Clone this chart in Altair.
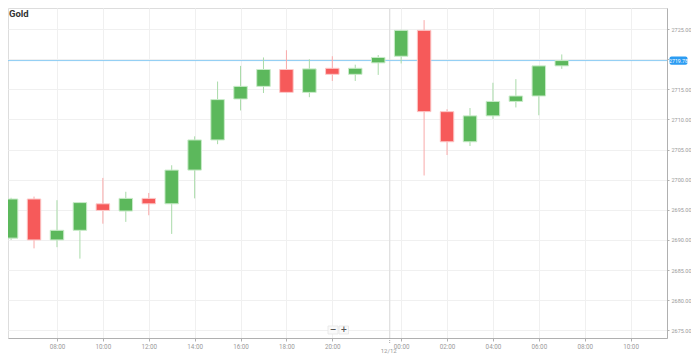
import altair as alt
import pandas as pd

# ---------------- data ----------------
times = ["06:00", "07:00", "08:00", "09:00", "10:00", "11:00", "12:00", "13:00",
         "14:00", "15:00", "16:00", "17:00", "18:00", "19:00", "20:00", "21:00",
         "22:00", "00:00", "01:00", "02:00", "03:00", "04:00", "05:00", "06:00",
         "07:00"]
opens = [2690.3, 2696.8, 2690.0, 2691.6, 2696.0, 2694.8, 2696.9, 2696.0,
         2701.6, 2706.6, 2713.4, 2715.5, 2718.3, 2714.5, 2718.5, 2717.5,
         2719.4, 2720.5, 2724.8, 2711.3, 2706.3, 2710.6, 2713.0, 2713.9,
         2718.9]
highs = [2697.0, 2697.2, 2696.6, 2696.3, 2700.3, 2698.0, 2697.8, 2702.4,
         2707.2, 2716.3, 2718.9, 2720.3, 2721.5, 2720.0, 2720.5, 2719.1,
         2720.7, 2724.9, 2726.5, 2711.7, 2711.9, 2716.1, 2716.7, 2718.9,
         2720.8]
lows = [2690.0, 2688.6, 2688.8, 2686.9, 2692.7, 2693.0, 2694.1, 2691.0,
        2696.9, 2705.9, 2711.5, 2714.4, 2714.4, 2713.7, 2716.4, 2716.4,
        2717.4, 2719.3, 2700.7, 2704.1, 2705.6, 2710.1, 2712.0, 2710.7,
        2718.4]
closes = [2696.8, 2690.0, 2691.6, 2696.2, 2694.9, 2696.9, 2696.0, 2701.6,
          2706.6, 2713.3, 2715.5, 2718.3, 2714.5, 2718.4, 2717.5, 2718.5,
          2720.3, 2724.8, 2711.3, 2706.3, 2710.6, 2713.0, 2713.9, 2718.9,
          2719.78]

y_ticks = [2675, 2680, 2685, 2690, 2695, 2700, 2705, 2710, 2715, 2720, 2725]
y_hidden_label = 2720  # covered by the current-price tag in the reference
x_tick_pos = [2, 4, 6, 8, 10, 12, 14, 17, 19, 21, 23, 25, 27]
x_tick_labels = ["08:00", "10:00", "12:00", "14:00", "16:00", "18:00", "20:00",
                 "00:00", "02:00", "04:00", "06:00", "08:00", "10:00"]
date_sep_pos = [16.5]
date_sep_label = ["12/12"]
current_price = [2719.78]
title_text = "Gold"
button_labels = ["\u2212", "+"]

# ---------------- tables ----------------
df = pd.DataFrame({"k": list(range(len(times))), "time": times, "open": opens,
                   "high": highs, "low": lows, "close": closes})
df["dir"] = ["up" if c >= o else "down" for o, c in zip(opens, closes)]

price_df = pd.DataFrame({"price": current_price,
                         "ptop": [p + 0.68 for p in current_price],
                         "pbot": [p - 0.68 for p in current_price],
                         "label": [f"{p:.2f}" for p in current_price]})
date_df = pd.DataFrame({"k": date_sep_pos, "label": date_sep_label})

W, H = 659, 330
xs = alt.Scale(domain=[0.0837, 28.368], nice=False, zero=False)
ys = alt.Scale(domain=[2673.72, 2728.51], nice=False, zero=False)

label_expr = ""
for p, lab in zip(x_tick_pos, x_tick_labels):
    label_expr += f"datum.value == {p} ? '{lab}' : "
label_expr += "''"
y_label_expr = f"datum.value == {y_hidden_label} ? '' : format(datum.value, '.2f')"

GRID = "#f0f0f0"
AX = "#b0b0b0"
LBL = "#9a9a9a"

x_axis = alt.Axis(values=x_tick_pos, labelExpr=label_expr, title=None, orient="bottom",
                  tickSize=3, labelPadding=2, labelFontSize=6.3, labelColor=LBL,
                  labelFont="Roboto", domainColor=AX, tickColor=AX,
                  gridColor=GRID, grid=True, labelOverlap=False, labelFlush=False)
y_axis = alt.Axis(values=y_ticks, labelExpr=y_label_expr, title=None, orient="right",
                  tickSize=2, labelPadding=2, labelFontSize=5.5, labelColor=LBL,
                  labelFont="Roboto", domainColor=AX, tickColor=AX,
                  gridColor=GRID, grid=True, labelOverlap=False, labelFlush=False)

X = lambda f: alt.X(f, scale=xs, axis=x_axis)
Y = lambda f: alt.Y(f, scale=ys, axis=y_axis)

color_fill = alt.Scale(domain=["up", "down"], range=["#5cb85c", "#f65a5a"])
color_light = alt.Scale(domain=["up", "down"], range=["#a9dba9", "#f9a9a9"])
color_stroke = alt.Scale(domain=["up", "down"], range=["#c9ebc9", "#fcc9c9"])

base = alt.Chart(df)

wicks = base.mark_rule(strokeWidth=1, clip=True).encode(
    x=X("k:Q"), y=Y("low:Q"), y2="high:Q",
    color=alt.Color("dir:N", scale=color_light, legend=None),
)

bodies = base.mark_bar(size=13.5, strokeWidth=1, clip=True).encode(
    x=X("k:Q"), y=Y("open:Q"), y2="close:Q",
    fill=alt.Fill("dir:N", scale=color_fill, legend=None),
    stroke=alt.Stroke("dir:N", scale=color_stroke, legend=None),
)

date_rule = alt.Chart(date_df).mark_rule(color="#e0e0e0", strokeWidth=1.3).encode(x=X("k:Q"))
date_tick = alt.Chart(date_df).mark_rule(color="#aaaaaa", strokeDash=[1, 1]).encode(
    x=X("k:Q"), y=alt.value(H), y2=alt.value(H + 6))
date_text = alt.Chart(date_df).mark_text(fontSize=6, color=LBL, font="Roboto",
                                         baseline="middle", dx=-1).encode(
    x=X("k:Q"), y=alt.value(H + 13.3), text="label:N")

price_rule = alt.Chart(price_df).mark_rule(color="#8ccdf4", strokeWidth=1).encode(y=Y("price:Q"))
price_box = alt.Chart(price_df).mark_rect(color="#2c9cf2", cornerRadius=2).encode(
    x=alt.value(W + 2.5), x2=alt.value(W + 20.5), y=Y("ptop:Q"), y2="pbot:Q")
price_text = alt.Chart(price_df).mark_text(color="white", fontSize=5.2, font="Roboto",
                                           baseline="middle", align="center").encode(
    x=alt.value(W + 11.5), y=Y("price:Q"), text="label:N")

title_mark = alt.Chart(pd.DataFrame({"t": [title_text]})).mark_text(
    fontSize=9.5, fontWeight="bold", color="#333333", font="Roboto",
    align="left", baseline="top").encode(x=alt.value(1), y=alt.value(0.5), text="t:N")

btn_df = pd.DataFrame({"b": button_labels, "x0": [320.0, 331.0], "x1": [330.0, 340.5],
                       "xc": [325.0, 335.75]})
buttons = alt.Chart(btn_df).mark_rect(fill="#fafafa", stroke="#e6e6e6", strokeWidth=0.8).encode(
    x=alt.X("x0:Q", scale=None), x2="x1:Q", y=alt.value(318), y2=alt.value(326))
btn_text = alt.Chart(btn_df).mark_text(fontSize=8, fontWeight="bold", color="#555555",
                                       font="DejaVu Sans", baseline="middle").encode(
    x=alt.X("xc:Q", scale=None), y=alt.value(322), text="b:N")

chart = alt.layer(
    date_rule, price_rule, wicks, bodies, date_tick, date_text,
    price_box, price_text, title_mark, buttons, btn_text
).properties(
    width=W, height=H,
    autosize=alt.AutoSizeParams(type="none"),
    padding={"left": 0, "top": 0, "right": 24, "bottom": 16},
).configure_view(strokeWidth=0).configure(background="white")

chart.save("out.html", embed_options={"renderer": "svg", "actions": False})
